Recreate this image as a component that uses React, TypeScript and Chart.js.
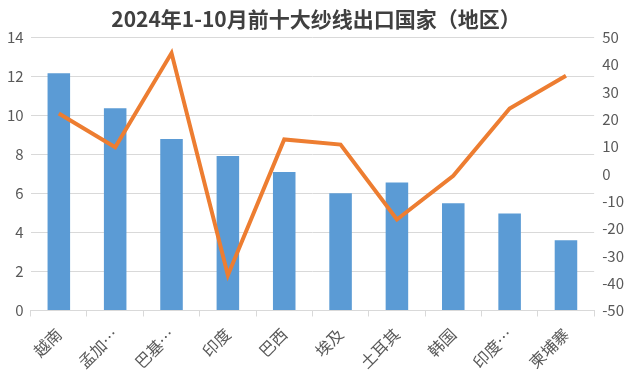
import React, { useEffect, useRef } from "react";
import { Chart, registerables } from "chart.js";

Chart.register(...registerables);

const title = "2024年1-10月前十大纱线出口国家（地区）";
const categories = ["越南", "孟加…", "巴基…", "印度", "巴西", "埃及", "土耳其", "韩国", "印度…", "柬埔寨"];
const barValues = [12.15, 10.36, 8.78, 7.91, 7.09, 6.0, 6.56, 5.49, 4.97, 3.6];
const lineValues = [22.1, 9.7, 44.2, -37.1, 12.6, 10.7, -16.7, -0.7, 23.9, 35.9];

const FONT = "'Noto Sans CJK SC', 'Noto Sans', sans-serif";

export default function App() {
  const ref = useRef<HTMLCanvasElement | null>(null);
  useEffect(() => {
    document.body.style.margin = "0";
    const ctx = ref.current!;
    const chart = new Chart(ctx, {
      type: "bar",
      data: {
        labels: categories,
        datasets: [
          {
            type: "line",
            data: lineValues,
            borderColor: "#ED7D31",
            backgroundColor: "#ED7D31",
            borderWidth: 4,
            pointRadius: 0,
            yAxisID: "y1",
            order: 0,
          },
          {
            type: "bar",
            data: barValues,
            backgroundColor: "#5B9BD5",
            barPercentage: 0.5,
            categoryPercentage: 0.8,
            yAxisID: "y",
            order: 1,
          },
        ],
      },
      options: {
        responsive: false,
        animation: false,
        layout: { padding: { left: 0, right: 0, top: 0, bottom: 0 } },
        plugins: {
          legend: { display: false },
          tooltip: { enabled: false },
          title: {
            display: true,
            text: title,
            color: "#404040",
            font: { family: FONT, size: 21, weight: "bold" },
            padding: { top: 6, bottom: 6 },
          },
        },
        scales: {
          x: {
            grid: {
              display: true,
              drawOnChartArea: false,
              drawTicks: true,
              tickLength: 6,
              color: "#D9D9D9",
              offset: true,
            },
            border: { color: "#D9D9D9" },
            ticks: {
              color: "#595959",
              font: { family: FONT, size: 16 },
              minRotation: 45,
              maxRotation: 45,
              autoSkip: false,
              padding: 8,
            },
          },
          y: {
            position: "left",
            min: 0,
            max: 14,
            ticks: {
              stepSize: 2,
              color: "#595959",
              font: { family: FONT, size: 15 },
              padding: 7,
            },
            grid: { color: "#D9D9D9", drawTicks: false },
            border: { display: false },
          },
          y1: {
            position: "right",
            min: -50,
            max: 50,
            ticks: {
              stepSize: 10,
              color: "#595959",
              font: { family: FONT, size: 15 },
              padding: 8,
            },
            grid: { display: false, drawTicks: false },
            border: { display: false },
          },
        },
      },
    });
    return () => chart.destroy();
  }, []);
  return (
    <div style={{ width: 632, height: 380 }}>
      <canvas ref={ref} width={632} height={380} />
    </div>
  );
}
